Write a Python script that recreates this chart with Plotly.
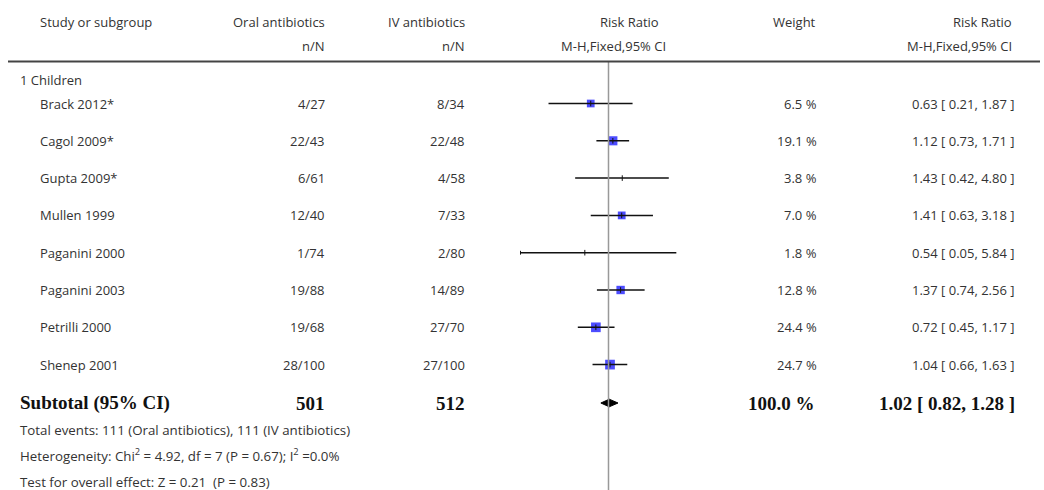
import plotly.graph_objects as go

# ---- data ----
studies = ["Brack 2012*", "Cagol 2009*", "Gupta 2009*", "Mullen 1999",
           "Paganini 2000", "Paganini 2003", "Petrilli 2000", "Shenep 2001"]
oral_nN = ["4/27", "22/43", "6/61", "12/40", "1/74", "19/88", "19/68", "28/100"]
iv_nN = ["8/34", "22/48", "4/58", "7/33", "2/80", "14/89", "27/70", "27/100"]
weights = [6.5, 19.1, 3.8, 7.0, 1.8, 12.8, 24.4, 24.7]
rr = [0.63, 1.12, 1.43, 1.41, 0.54, 1.37, 0.72, 1.04]
rr_lo = [0.21, 0.73, 0.42, 0.63, 0.05, 0.74, 0.45, 0.66]
rr_hi = [1.87, 1.71, 4.80, 3.18, 5.84, 2.56, 1.17, 1.63]

subtotal_oral = 501
subtotal_iv = 512
subtotal_weight = 100.0
subtotal_rr = 1.02
subtotal_lo = 0.82
subtotal_hi = 1.28

subgroup = "1 Children"
header1 = ["Study or subgroup", "Oral antibiotics", "IV antibiotics", "Risk Ratio", "Weight", "Risk Ratio"]
header2 = ["n/N", "n/N", "M-H,Fixed,95% CI", "M-H,Fixed,95% CI"]
footnotes = [
    "Total events: 111 (Oral antibiotics), 111 (IV antibiotics)",
    "Heterogeneity: Chi<sup>2</sup> = 4.92, df = 7 (P = 0.67); I<sup>2</sup> =0.0%",
    "Test for overall effect: Z = 0.21  (P = 0.83)",
]

# ---- layout constants ----
W, H = 1044, 490
AX_MIN, AX_MAX = 0.1, 10.0
TXT = "#333333"
FONT = "Open Sans"
SERIF = "Liberation Serif"
FS = 13
FS_FOOT = 13.3

row0, row_step = 103.5, 37.3
ys = [row0 + i * row_step for i in range(len(studies))]
y_sub = 403
y_foot = [430, 455, 482]

def px(x):
    return x / W

fig = go.Figure()

# CI lines (clipped to axis range)
lx, ly = [], []
arrows_x, arrows_y = [], []
for lo, hi, y in zip(rr_lo, rr_hi, ys):
    a = max(lo, AX_MIN)
    b = min(hi, AX_MAX)
    lx += [a, b, None]
    ly += [y, y, None]
    if lo < AX_MIN:
        arrows_x.append(AX_MIN)
        arrows_y.append(y)

# squares (only visible for larger weights, as in the reference)
sq_x = [r for r, w in zip(rr, weights) if w >= 5]
sq_y = [y for y, w in zip(ys, weights) if w >= 5]
sq_s = [7 + 0.11 * w for w in weights if w >= 5]
fig.add_trace(go.Scatter(
    x=sq_x, y=sq_y, mode="markers",
    marker=dict(symbol="square", size=sq_s, color="#0000ff", line=dict(width=0)),
    hoverinfo="skip", showlegend=False))
fig.add_trace(go.Scatter(
    x=lx, y=ly, mode="lines", line=dict(color="#111111", width=1.5),
    hoverinfo="skip", showlegend=False))
# point ticks
fig.add_trace(go.Scatter(
    x=rr, y=ys, mode="markers",
    marker=dict(symbol="line-ns", size=4, line=dict(width=1, color="#111111")),
    hoverinfo="skip", showlegend=False))
if arrows_x:
    fig.add_trace(go.Scatter(
        x=arrows_x, y=arrows_y, mode="markers",
        marker=dict(symbol="triangle-left", size=4, color="#111111"),
        hoverinfo="skip", showlegend=False))

# diamond
dh = 3.8
fig.add_trace(go.Scatter(
    x=[subtotal_lo, subtotal_rr, subtotal_hi, subtotal_rr, subtotal_lo],
    y=[y_sub, y_sub - dh, y_sub, y_sub + dh, y_sub],
    mode="lines", fill="toself", fillcolor="#000000",
    line=dict(color="#000000", width=1), hoverinfo="skip", showlegend=False))

shapes = [
    dict(type="line", xref="x", yref="y", x0=1, x1=1, y0=61, y1=H,
         line=dict(color="#999999", width=1.5)),
    dict(type="line", xref="paper", yref="y", x0=px(8), x1=px(1040), y0=61.5, y1=61.5,
         line=dict(color="#444444", width=2)),
]

ann = []
def txt(x, y, s, anchor="left", size=FS, font=FONT, bold=False):
    ann.append(dict(x=px(x), y=y, xref="paper", yref="y", text=s, showarrow=False,
                    xanchor=anchor, yanchor="middle",
                    font=dict(family=font, size=size, color="#111111" if bold else TXT)))

# headers
txt(38, 22, header1[0])
txt(327, 22, header1[1], "right")
txt(467, 22, header1[2], "right")
txt(661, 22, header1[3], "right")
txt(818, 22, header1[4], "right")
txt(1014, 22, header1[5], "right")
txt(327, 46, header2[0], "right")
txt(467, 46, header2[1], "right")
txt(668, 46, header2[2], "right")
txt(1014, 46, header2[3], "right")

txt(18, 80, subgroup)

for name, o, v, w, r, lo, hi, y in zip(studies, oral_nN, iv_nN, weights, rr, rr_lo, rr_hi, ys):
    txt(38, y, name)
    txt(327, y, o, "right")
    txt(467, y, v, "right")
    txt(819, y, f"{w:.1f} %", "right")
    txt(1017, y, f"{r:.2f} [ {lo:.2f}, {hi:.2f} ]", "right")

BS = 19
txt(18, y_sub, "<b>Subtotal (95% CI)</b>", size=BS, font=SERIF, bold=True)
txt(327, y_sub, f"<b>{subtotal_oral}</b>", "right", size=BS, font=SERIF, bold=True)
txt(467, y_sub, f"<b>{subtotal_iv}</b>", "right", size=BS, font=SERIF, bold=True)
txt(817, y_sub, f"<b>{subtotal_weight:.1f} %</b>", "right", size=BS, font=SERIF, bold=True)
txt(1017, y_sub, f"<b>{subtotal_rr:.2f} [ {subtotal_lo:.2f}, {subtotal_hi:.2f} ]</b>", "right",
    size=BS, font=SERIF, bold=True)

for s, y in zip(footnotes, y_foot):
    txt(18, y, s, size=FS_FOOT)

fig.update_layout(
    width=W, height=H, margin=dict(l=0, r=0, t=0, b=0),
    paper_bgcolor="white", plot_bgcolor="white",
    xaxis=dict(type="log", range=[-1, 1], domain=[px(520), px(697)], visible=False),
    yaxis=dict(range=[H, 0], domain=[0, 1], visible=False),
    shapes=shapes, annotations=ann,
)
fig.write_html("out.html", config={"displayModeBar": False},
               post_script="document.body.style.margin='0';document.body.style.overflow='hidden';")
